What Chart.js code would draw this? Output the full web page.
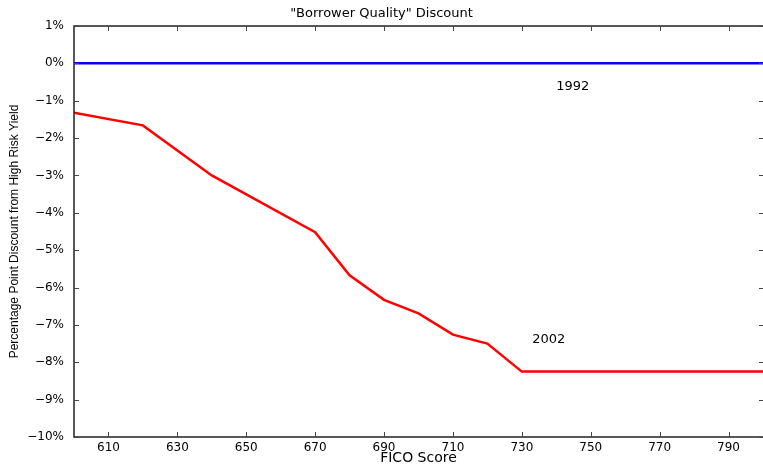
<!DOCTYPE html>
<html>
<head>
<meta charset="utf-8">
<script src="https://cdn.jsdelivr.net/npm/chart.js@4"></script>
<style>
  html, body { margin: 0; padding: 0; background: #fff; }
  #wrap { width: 763px; height: 467px; }
</style>
</head>
<body>
<div id="wrap"><canvas id="chart"></canvas></div>
<script>
// FICO score break points and the discount (percentage points) for each year
const ficoScores = [600, 620, 640, 670, 680, 690, 700, 710, 720, 730, 800];
const discount2002 = [-1.32, -1.66, -3.0, -4.52, -5.67, -6.33, -6.69, -7.26, -7.5, -8.25, -8.25];
const ficoScores1992 = [600, 800];
const discount1992 = [0, 0];

const xTicks = [610, 630, 650, 670, 690, 710, 730, 750, 770, 790];
const yTicks = [1, 0, -1, -2, -3, -4, -5, -6, -7, -8, -9, -10];

// series names written next to the lines, at data coordinates
const seriesNames = ['1992', '2002'];
const nameX = [740, 733];
const nameY = [-0.62, -7.4];

const WIDE = 'DejaVu Sans, Verdana, sans-serif';
const NARROW = 'Liberation Sans, Arial, Helvetica, sans-serif';

const pts = (xs, ys) => xs.map((x, i) => ({ x, y: ys[i] }));
const fmtPct = v => (v < 0 ? '\u2212' : '') + Math.abs(v) + '%';

// axes box (right edge runs off the canvas) with matlab-style inward ticks, plus the series names
const frame = {
  id: 'frame',
  afterDraw(chart) {
    const { ctx, chartArea: a, scales: { x, y } } = chart;
    ctx.save();
    ctx.strokeStyle = '#222';
    ctx.lineWidth = 1.5;
    ctx.beginPath();
    ctx.moveTo(a.right + 2, a.top);
    ctx.lineTo(a.left, a.top);
    ctx.lineTo(a.left, a.bottom);
    ctx.lineTo(a.right + 2, a.bottom);
    ctx.stroke();
    ctx.lineWidth = 1;
    ctx.strokeStyle = '#444';
    ctx.beginPath();
    xTicks.forEach(t => {
      const px = Math.round(x.getPixelForValue(t)) + 0.5;
      ctx.moveTo(px, a.bottom); ctx.lineTo(px, a.bottom - 5);
      ctx.moveTo(px, a.top); ctx.lineTo(px, a.top + 5);
    });
    yTicks.forEach(t => {
      const py = Math.round(y.getPixelForValue(t)) + 0.5;
      ctx.moveTo(a.left, py); ctx.lineTo(a.left + 5, py);
      ctx.moveTo(a.right + 2, py); ctx.lineTo(a.right - 4, py);
    });
    ctx.stroke();

    ctx.fillStyle = '#000';
    ctx.font = '13px ' + WIDE;
    ctx.textBaseline = 'middle';
    ctx.textAlign = 'left';
    seriesNames.forEach((s, i) => {
      ctx.fillText(s, x.getPixelForValue(nameX[i]), y.getPixelForValue(nameY[i]));
    });
    ctx.restore();
  }
};

new Chart(document.getElementById('chart'), {
  type: 'line',
  data: {
    datasets: [
      { label: '1992', data: pts(ficoScores1992, discount1992), borderColor: '#0000ff', borderWidth: 2.5, pointRadius: 0, tension: 0 },
      { label: '2002', data: pts(ficoScores, discount2002), borderColor: '#ff0000', borderWidth: 2.5, pointRadius: 0, tension: 0 },
    ]
  },
  options: {
    responsive: true,
    maintainAspectRatio: false,
    animation: false,
    layout: { padding: { left: 0, right: 0, top: 0, bottom: 0 } },
    plugins: {
      legend: { display: false },
      tooltip: { enabled: false },
      title: {
        display: true,
        text: '"Borrower Quality" Discount',
        color: '#000',
        font: { family: WIDE, size: 13, weight: 'normal' },
        padding: { top: 5.5, bottom: 4.9 }
      }
    },
    scales: {
      x: {
        type: 'linear',
        min: 600,
        max: 800,
        afterBuildTicks: s => { s.ticks = xTicks.map(v => ({ value: v })); },
        afterFit: s => { s.height = 30; },
        grid: { display: false, drawTicks: false },
        border: { display: false },
        ticks: { color: '#000', padding: 4, font: { family: WIDE, size: 12 } },
        title: {
          display: true,
          text: 'FICO Score',
          color: '#000',
          font: { family: WIDE, size: 14 },
          padding: { top: 0, bottom: 0 }
        }
      },
      y: {
        min: -10,
        max: 1,
        afterBuildTicks: s => { s.ticks = yTicks.map(v => ({ value: v })); },
        afterFit: s => { s.width = 74; },
        grid: { display: false, drawTicks: false },
        border: { display: false },
        ticks: { color: '#000', padding: 10, font: { family: WIDE, size: 12 }, callback: fmtPct },
        title: {
          display: true,
          text: 'Percentage Point Discount from High Risk Yield',
          color: '#000',
          font: { family: NARROW, size: 12 },
          padding: { top: 7, bottom: 0 }
        }
      }
    }
  },
  plugins: [frame]
});
</script>
</body>
</html>
